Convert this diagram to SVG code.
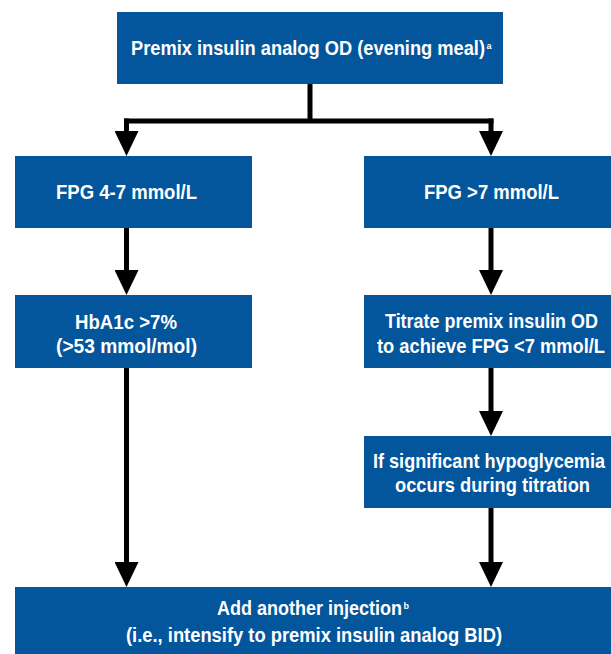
<svg xmlns="http://www.w3.org/2000/svg" width="611" height="654" viewBox="0 0 611 654">
<style>
.box{fill:#03559C;}
.t{font-family:"Liberation Sans","Arial",sans-serif;font-weight:bold;font-size:21px;fill:#ffffff;}
.sup{font-family:"Liberation Sans","Arial",sans-serif;font-weight:bold;font-size:9px;fill:#ffffff;}
.c{fill:none;stroke:#000000;stroke-width:5;}
</style>
<defs>
<marker id="ah" markerUnits="userSpaceOnUse" markerWidth="25" markerHeight="24" viewBox="0 0 25 24" refX="9" refY="12" orient="auto">
<path d="M0,0 L25,12 L0,24 Z" fill="#000000"/>
</marker>
</defs>
<rect width="611" height="654" fill="#ffffff"/>
<g id="connectors">
<path class="c" d="M310,84 V123"/>
<path class="c" d="M124,121 H493.5"/>
<path class="c" d="M126.5,118.5 V140" marker-end="url(#ah)"/>
<path class="c" d="M491,118.5 V140" marker-end="url(#ah)"/>
<path class="c" d="M126.5,228 V279" marker-end="url(#ah)"/>
<path class="c" d="M491,228 V279" marker-end="url(#ah)"/>
<path class="c" d="M126.5,368 V571" marker-end="url(#ah)"/>
<path class="c" d="M491,368 V420" marker-end="url(#ah)"/>
<path class="c" d="M491,508 V571" marker-end="url(#ah)"/>
</g>
<g id="n-top">
<rect class="box" x="117" y="12" width="386" height="72"/>
<text class="t" transform="translate(131,55) scale(0.87,1)" textLength="406.9" lengthAdjust="spacingAndGlyphs">Premix insulin analog OD (evening meal)</text>
<text class="sup" x="486.5" y="49">a</text>
</g>
<g id="n-fpg47">
<rect class="box" x="15" y="156" width="237" height="72"/>
<text class="t" transform="translate(56,199) scale(0.87,1)" textLength="162.1" lengthAdjust="spacingAndGlyphs">FPG 4-7 mmol/L</text>
</g>
<g id="n-fpg7">
<rect class="box" x="364" y="156" width="247" height="72"/>
<text class="t" transform="translate(424,199) scale(0.87,1)" textLength="155.2" lengthAdjust="spacingAndGlyphs">FPG &gt;7 mmol/L</text>
</g>
<g id="n-hba1c">
<rect class="box" x="15" y="295" width="237" height="73"/>
<text class="t" transform="translate(75,329) scale(0.87,1)" textLength="117.2" lengthAdjust="spacingAndGlyphs">HbA1c &gt;7%</text>
<text class="t" transform="translate(56,353) scale(0.87,1)" textLength="162.1" lengthAdjust="spacingAndGlyphs">(&gt;53 mmol/mol)</text>
</g>
<g id="n-titrate">
<rect class="box" x="364" y="295" width="247" height="73"/>
<text class="t" transform="translate(385,328) scale(0.87,1)" textLength="244.8" lengthAdjust="spacingAndGlyphs">Titrate premix insulin OD</text>
<text class="t" transform="translate(377,352.5) scale(0.87,1)" textLength="262.1" lengthAdjust="spacingAndGlyphs">to achieve FPG &lt;7 mmol/L</text>
</g>
<g id="n-hypo">
<rect class="box" x="364" y="436" width="247" height="72"/>
<text class="t" transform="translate(373,468) scale(0.87,1)" textLength="266.7" lengthAdjust="spacingAndGlyphs">If significant hypoglycemia</text>
<text class="t" transform="translate(395,492) scale(0.87,1)" textLength="224.1" lengthAdjust="spacingAndGlyphs">occurs during titration</text>
</g>
<g id="n-bottom">
<rect class="box" x="15" y="587" width="596" height="67"/>
<text class="t" transform="translate(217,614.5) scale(0.87,1)" textLength="212.6" lengthAdjust="spacingAndGlyphs">Add another injection</text>
<text class="sup" x="403.5" y="609">b</text>
<text class="t" transform="translate(126,641.5) scale(0.87,1)" textLength="432.2" lengthAdjust="spacingAndGlyphs">(i.e., intensify to premix insulin analog BID)</text>
</g>
</svg>
